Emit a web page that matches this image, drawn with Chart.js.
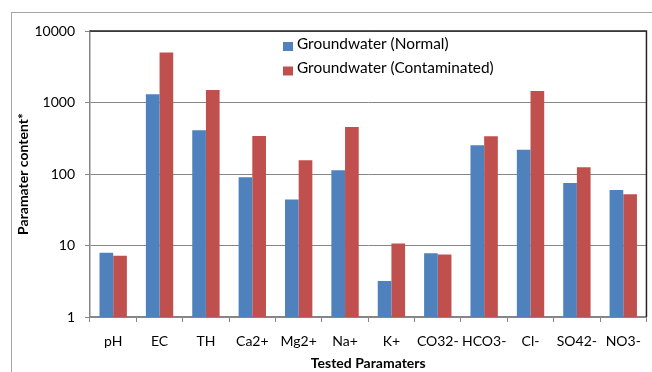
<!DOCTYPE html>
<html>
<head>
<meta charset="utf-8">
<script src="https://cdn.jsdelivr.net/npm/chart.js@4"></script>
<style>
  html, body { margin: 0; padding: 0; background: #fff; }
  #wrap { width: 652px; height: 372px; position: relative; }
</style>
</head>
<body>
<div id="wrap"><canvas id="chart" width="652" height="372"></canvas></div>
<script>
// categories on the x axis
const parameters = ["pH", "EC", "TH", "Ca2+", "Mg2+", "Na+", "K+", "CO32-", "HCO3-", "Cl-", "SO42-", "NO3-"];

// values
const normalValues = [7.9, 1300, 408, 90, 44, 113, 3.2, 7.8, 252, 218, 75, 59.5];
const contaminatedValues = [7.2, 5000, 1500, 340, 156, 454, 10.7, 7.5, 336, 1450, 124, 52];

const seriesNames = ["Groundwater (Normal)", "Groundwater (Contaminated)"];
const yTicks = [1, 10, 100, 1000, 10000];

const FONT = "Lato, 'Open Sans', sans-serif";

// frame around the whole chart + black top/right edge of the plot
const framePlugin = {
  id: "frame",
  beforeDraw(chart) {
    const ctx = chart.ctx;
    ctx.save();
    ctx.strokeStyle = "#a6a6a6";
    ctx.lineWidth = 1;
    ctx.strokeRect(11.5, 12.5, 700, 400);
    ctx.restore();
  },
  afterDraw(chart) {
    const { ctx, chartArea } = chart;
    ctx.save();
    ctx.strokeStyle = "#222";
    ctx.lineWidth = 1.5;
    ctx.beginPath();
    ctx.moveTo(chartArea.left, chartArea.top);
    ctx.lineTo(chartArea.right, chartArea.top);
    ctx.lineTo(chartArea.right, chartArea.bottom);
    ctx.stroke();
    ctx.restore();
  },
};

// legend drawn as two stacked rows inside the plot
const legendPlugin = {
  id: "stackedLegend",
  afterDraw(chart) {
    const ctx = chart.ctx;
    ctx.save();
    ctx.font = "15.4px " + FONT;
    ctx.textBaseline = "alphabetic";
    chart.data.datasets.forEach((ds, i) => {
      const y = 42 + i * 24.5;
      ctx.fillStyle = ds.backgroundColor;
      ctx.fillRect(283, y, 10, 9);
      ctx.fillStyle = "#000";
      ctx.fillText(ds.label, 297, y + 6.5);
    });
    ctx.restore();
  },
};

const ctx = document.getElementById("chart").getContext("2d");
new Chart(ctx, {
  type: "bar",
  data: {
    labels: parameters,
    datasets: [
      {
        label: seriesNames[0],
        data: normalValues,
        backgroundColor: "#4f81bd",
        categoryPercentage: 0.59,
        barPercentage: 1,
      },
      {
        label: seriesNames[1],
        data: contaminatedValues,
        backgroundColor: "#c0504d",
        categoryPercentage: 0.59,
        barPercentage: 1,
      },
    ],
  },
  options: {
    responsive: false,
    animation: false,
    events: [],
    layout: { padding: { left: 0, top: 31, right: 3, bottom: 0 } },
    plugins: {
      legend: { display: false },
      tooltip: { enabled: false },
    },
    scales: {
      x: {
        grid: {
          drawOnChartArea: false,
          offset: true,
          tickLength: 5,
          color: "#868686",
        },
        border: { color: "#868686", width: 1.5 },
        ticks: {
          color: "#000",
          padding: 11,
          maxRotation: 0,
          autoSkip: false,
          font: { family: FONT, size: 14 },
        },
        title: {
          display: true,
          text: "Tested Paramaters",
          color: "#000",
          padding: { top: 0, bottom: 0 },
          font: { family: FONT, size: 14, weight: "bold" },
        },
        afterFit(scale) {
          scale.height = 55;
        },
      },
      y: {
        type: "logarithmic",
        min: 1,
        max: 10000,
        afterBuildTicks(scale) {
          scale.ticks = yTicks.map((v) => ({ value: v }));
        },
        grid: {
          color: "#868686",
          tickLength: 5,
        },
        border: { color: "#868686", width: 1.5 },
        ticks: {
          color: "#000",
          padding: 10,
          font: { family: FONT, size: 14 },
          callback: (v) => String(v),
        },
        title: {
          display: true,
          text: "Paramater content*",
          color: "#000",
          padding: { top: 15, bottom: 0 },
          font: { family: FONT, size: 14, weight: "bold" },
        },
        afterFit(scale) {
          scale.width = 90;
        },
      },
    },
  },
  plugins: [framePlugin, legendPlugin],
});
</script>
</body>
</html>
